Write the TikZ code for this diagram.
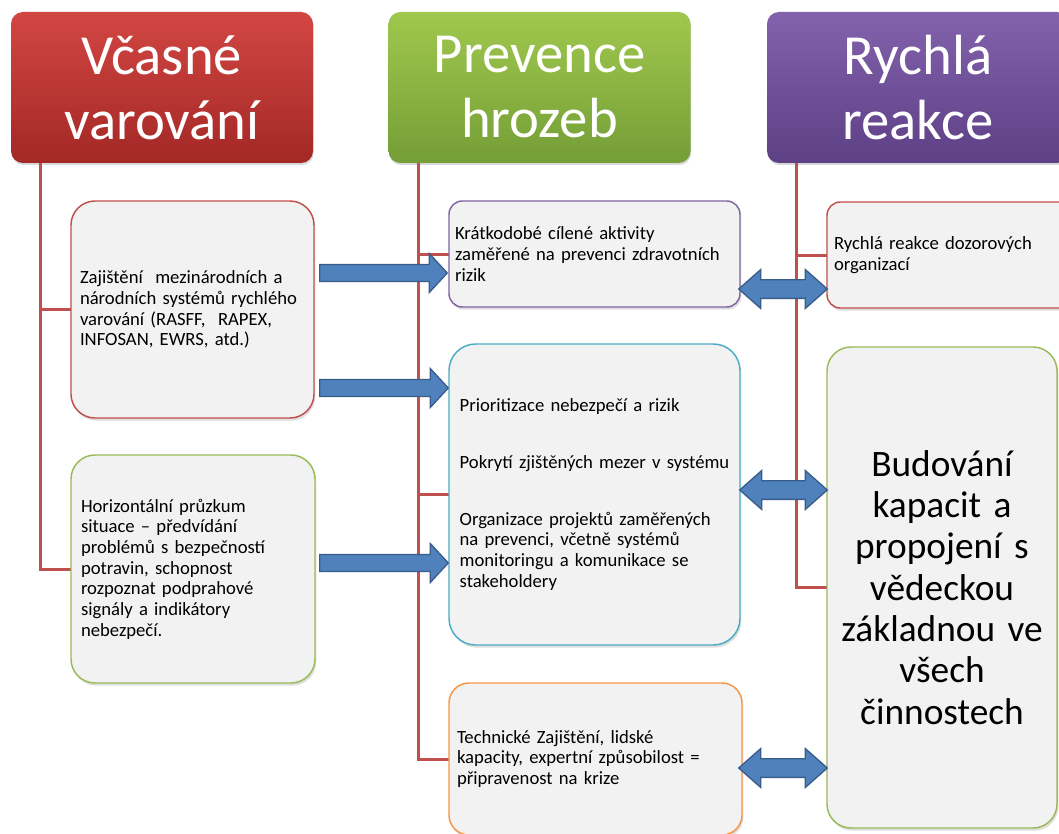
\documentclass[tikz,border=0pt]{standalone}
\usepackage{fontspec}
\setmainfont{Carlito}
\usetikzlibrary{calc,shadows}
\definecolor{redT}{RGB}{210,70,66}
\definecolor{redB}{RGB}{163,40,38}
\definecolor{greenT}{RGB}{160,200,78}
\definecolor{greenB}{RGB}{116,158,54}
\definecolor{purpT}{RGB}{130,98,172}
\definecolor{purpB}{RGB}{94,64,134}
\definecolor{treeline}{RGB}{192,80,77}
\definecolor{boxfill}{RGB}{242,242,242}
\definecolor{bred}{RGB}{192,80,77}
\definecolor{bgreen}{RGB}{155,187,89}
\definecolor{bpurple}{RGB}{128,100,162}
\definecolor{bcyan}{RGB}{75,172,198}
\definecolor{borange}{RGB}{247,150,70}
\definecolor{afill}{RGB}{79,129,189}
\definecolor{aline}{RGB}{56,93,138}
% single block arrow from #1 to #2 (tip at #2)
\newcommand\sarrow[2]{%
  \path[barrow] let \p1=#1, \p2=#2 in
    (\x1,\y1+6.4pt) -- (\x2-13.5pt,\y1+6.4pt) -- (\x2-13.5pt,\y1+14.6pt) -- (\x2,\y1)
    -- (\x2-13.5pt,\y1-14.6pt) -- (\x2-13.5pt,\y1-6.4pt) -- (\x1,\y1-6.4pt) -- cycle;}
% double block arrow between #1 and #2
\newcommand\darrow[2]{%
  \path[barrow] let \p1=#1, \p2=#2 in
    (\x1,\y1) -- (\x1+16.5pt,\y1+14.6pt) -- (\x1+16.5pt,\y1+7pt) -- (\x2-16.5pt,\y1+7pt)
    -- (\x2-16.5pt,\y1+14.6pt) -- (\x2,\y1) -- (\x2-16.5pt,\y1-14.6pt) -- (\x2-16.5pt,\y1-7pt)
    -- (\x1+16.5pt,\y1-7pt) -- (\x1+16.5pt,\y1-14.6pt) -- cycle;}
\begin{document}
\begin{tikzpicture}[x=0.75pt,y=-0.75pt,
  header/.style={rounded corners=9pt, text=white, align=center,
    font=\fontsize{42.5}{48.75}\selectfont, inner sep=0pt,
    minimum width=226.5pt, minimum height=113.25pt,
    drop shadow={opacity=0.3,shadow xshift=0.5pt,shadow yshift=-1.5pt}},
  card/.style={draw=#1, fill=boxfill, line width=1.1pt, align=left,
    font=\fontsize{14}{15.5}\selectfont, inner ysep=0pt,
    drop shadow={opacity=0.25,shadow xshift=1pt,shadow yshift=-2pt}},
  tree/.style={draw=treeline, line width=2.25pt},
  barrow/.style={fill=afill, draw=aline, line width=1pt, line join=miter}
]
\useasboundingbox (0,0) rectangle (1059,834);
\clip (0,0) rectangle (1059,834);
\fill[white] (0,0) rectangle (1059,834);

% headers
\node[header, top color=redT, bottom color=redB] (hA) at (162,87.5) {Včasné\\varování};
\node[header, top color=greenT, bottom color=greenB] (hB) at (539.5,87.5) {Prevence\\hrozeb};
\node[header, top color=purpT, bottom color=purpB] (hC) at (918,87.5) {Rychlá\\reakce};

% box positions
\coordinate (pA) at (192.5,309.5);
\coordinate (pB) at (193,569);
\coordinate (pC) at (594.5,254);
\coordinate (pD) at (594.5,494.5);
\coordinate (pE) at (595.5,759);
\coordinate (pF) at (951,255);
\coordinate (pG) at (942,587.5);

% invisible placeholders to route tree lines first
\path (pA) node[minimum width=182.25pt, minimum height=162.75pt, inner sep=0pt] (A0) {};
\path (pB) node[minimum width=183pt, minimum height=171pt, inner sep=0pt] (B0) {};
\path (pC) node[minimum width=218.25pt, minimum height=79.5pt, inner sep=0pt] (C0) {};
\path (pD) node[minimum width=218.25pt, minimum height=225.75pt, inner sep=0pt] (D0) {};
\path (pE) node[minimum width=219.75pt, minimum height=114pt, inner sep=0pt] (E0) {};
\path (pF) node[minimum width=186pt, minimum height=79.5pt, inner sep=0pt] (F0) {};
\path (pG) node[minimum width=172.5pt, minimum height=360.75pt, inner sep=0pt] (G0) {};

% tree lines
\draw[tree] ([xshift=22.5pt]hA.south west) |- (A0.west);
\draw[tree] ([xshift=22.5pt]hA.south west) |- (B0.west);
\draw[tree] ([xshift=22.5pt]hB.south west) |- (C0.west);
\draw[tree] ([xshift=22.5pt]hB.south west) |- (D0.west);
\draw[tree] ([xshift=22.5pt]hB.south west) |- (E0.west);
\draw[tree] ([xshift=22.5pt]hC.south west) |- (F0.west);
\draw[tree] ([xshift=22.5pt]hC.south west) |- (G0.west);

% cards
\node[card=bred, rounded corners=18pt, minimum width=182.25pt, minimum height=162.75pt,
  inner xsep=6.75pt, text width=168.75pt] (A) at (pA)
  {Zajištění~ mezinárodních a\\národních systémů rychlého\\varování (RASFF,~ RAPEX,\\INFOSAN, EWRS, atd.)};
\node[card=bgreen, rounded corners=18pt, minimum width=183pt, minimum height=171pt,
  inner xsep=7.5pt, text width=168pt] (B) at (pB)
  {Horizontální průzkum\\situace – předvídání\\problémů s bezpečností\\potravin, schopnost\\rozpoznat podprahové\\signály a indikátory\\nebezpečí.};
\node[card=bpurple, rounded corners=10pt, minimum width=218.25pt, minimum height=79.5pt,
  inner xsep=4.5pt, text width=209.25pt] (C) at (pC)
  {Krátkodobé cílené aktivity\\zaměřené na prevenci zdravotních\\rizik};
\node[card=bcyan, rounded corners=20pt, minimum width=218.25pt, minimum height=225.75pt,
  inner xsep=8pt, text width=202.25pt] (D) at (pD)
  {Prioritizace nebezpečí a rizik\\[27pt]Pokrytí zjištěných mezer v systému\\[27pt]Organizace projektů zaměřených\\na prevenci, včetně systémů\\monitoringu a komunikace se\\stakeholdery};
\node[card=borange, rounded corners=15pt, minimum width=219.75pt, minimum height=114pt,
  inner xsep=6pt, text width=207.75pt] (E) at (pE)
  {Technické Zajištění, lidské\\kapacity, expertní způsobilost =\\připravenost na krize};
\node[card=bred, rounded corners=10pt, minimum width=186pt, minimum height=79.5pt,
  inner xsep=5.25pt, text width=175.5pt] (F) at (pF)
  {Rychlá reakce dozorových\\organizací};
\node[card=bgreen, rounded corners=18pt, minimum width=172.5pt, minimum height=360.75pt,
  inner xsep=6.25pt, text width=160pt, align=center,
  font=\fontsize{28}{31}\selectfont] (G) at (pG)
  {Budování\\kapacit a\\propojení s\\vědeckou\\základnou ve\\všech\\činnostech};

% arrow levels
\coordinate (r1) at (0,273);
\coordinate (r2) at (0,388);
\coordinate (r3) at (0,563);
\coordinate (d1) at (0,289);
\coordinate (d2) at (0,490);
\coordinate (d3) at (0,768);

% arrows
\sarrow{($(A.east |- r1)+(5,0)$)}{($(C.west |- r1)+(-1,0)$)}
\sarrow{($(A.east |- r2)+(5,0)$)}{(D.west |- r2)}
\sarrow{($(B.east |- r3)+(4,0)$)}{(D.west |- r3)}
\darrow{($(C.east |- d1)+(-2,0)$)}{($(F.west |- d1)+(1,0)$)}
\darrow{($(D.east |- d2)+(-1,0)$)}{($(G.west |- d2)+(1,0)$)}
\darrow{($(E.east |- d3)+(-4,0)$)}{($(G.west |- d3)+(1,0)$)}
\end{tikzpicture}
\end{document}
